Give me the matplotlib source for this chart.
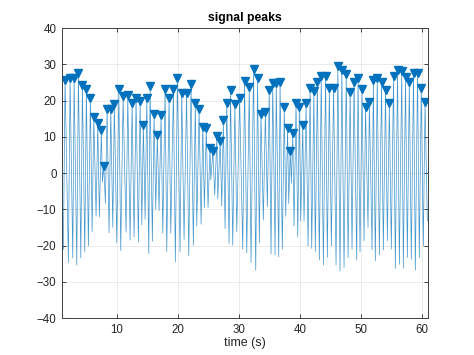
import numpy as np
import matplotlib
matplotlib.use("Agg")
from matplotlib import pyplot as plt

plt.rcParams['font.family'] = ['Liberation Sans', 'DejaVu Sans']

# peak positions (s) and heights
peak_t = [1.49, 2.31, 2.97, 3.67, 4.33, 4.98, 5.64, 6.20, 6.85, 7.44,
          7.84, 8.38, 8.98, 9.57, 10.30, 11.00, 11.77, 12.48, 13.13, 13.79,
          14.33, 14.89, 15.43, 16.08, 16.62, 17.23, 17.89, 18.54, 19.25, 19.90,
          20.62, 21.41, 22.15, 22.84, 23.46, 24.07, 24.64, 25.26, 25.72, 26.38,
          26.92, 27.44, 28.00, 28.62, 29.33, 30.11, 30.92, 31.69, 32.39, 33.05,
          33.61, 34.33, 34.97, 35.54, 36.11, 36.74, 37.43, 37.97, 38.41, 38.82,
          39.36, 39.90, 40.46, 41.00, 41.66, 42.28, 42.85, 43.49, 44.20, 44.82,
          45.51, 46.21, 46.87, 47.59, 48.23, 48.87, 49.52, 50.18, 50.75, 51.38,
          52.03, 52.67, 53.38, 54.03, 54.66, 55.34, 56.00, 56.69, 57.31, 57.93,
          58.62, 59.28, 59.89, 60.51]
peak_v = [25.8, 26.1, 26.3, 27.5, 24.3, 23.1, 20.8, 15.5, 13.7, 11.8,
          1.9, 17.6, 17.8, 19.0, 23.1, 21.2, 21.4, 19.3, 20.6, 19.9,
          13.2, 20.6, 24.1, 16.2, 10.6, 15.9, 23.2, 20.7, 23.2, 26.2,
          22.0, 22.0, 24.5, 19.4, 17.6, 12.8, 12.4, 7.0, 6.0, 10.2,
          8.8, 14.6, 19.4, 22.8, 19.0, 20.8, 25.4, 23.8, 28.8, 26.3,
          16.3, 16.8, 22.8, 24.8, 24.8, 25.2, 18.1, 12.4, 6.1, 11.0,
          19.3, 18.2, 13.2, 19.2, 23.4, 22.5, 25.2, 26.9, 26.9, 23.6,
          23.5, 29.4, 28.4, 27.4, 22.4, 25.2, 26.1, 23.2, 18.3, 19.7,
          25.7, 26.3, 25.2, 23.0, 19.3, 26.8, 28.3, 28.1, 26.6, 25.2,
          27.7, 27.7, 23.6, 19.7]

# troughs between the peaks
trough_t = [1.21, 2.03, 2.75, 3.41, 4.07, 4.72, 5.31, 5.92, 6.57, 7.11,
            7.61, 8.10, 8.70, 9.31, 9.97, 10.62, 11.49, 12.15, 12.80, 13.51,
            14.07, 14.61, 15.21, 15.80, 16.36, 16.90, 17.51, 18.16, 18.82, 19.57,
            20.34, 21.00, 21.77, 22.52, 23.08, 23.79, 24.33, 24.93, 25.38, 26.03,
            26.52, 27.18, 27.72, 28.38, 28.98, 29.64, 30.62, 31.28, 31.98, 32.75,
            33.34, 34.00, 34.66, 35.26, 35.92, 36.52, 37.11, 37.67, 38.16, 38.59,
            39.03, 39.64, 40.13, 40.67, 41.33, 41.93, 42.52, 43.18, 43.84, 44.49,
            45.15, 45.92, 46.57, 47.23, 47.89, 48.54, 49.31, 49.85, 50.51, 51.16,
            51.82, 52.36, 53.02, 53.67, 54.33, 54.98, 55.64, 56.30, 56.95, 57.61,
            58.26, 58.92, 59.57, 60.23, 60.89]
trough_v = [-21.0, -24.7, -23.4, -25.4, -23.4, -21.7, -20.1, -16.2, -11.9, -12.1,
            -2.4, -8.4, -16.5, -15.0, -19.2, -21.4, -16.3, -18.5, -17.6, -19.0,
            -14.3, -12.8, -22.2, -18.8, -10.0, -10.4, -16.6, -21.7, -16.6, -24.5,
            -21.7, -18.3, -22.8, -19.9, -14.6, -14.1, -9.5, -9.5, -1.9, -6.1,
            -7.2, -9.1, -15.3, -19.4, -19.9, -16.2, -21.0, -22.0, -24.7, -26.8,
            -19.2, -13.0, -9.3, -22.3, -22.6, -23.1, -21.0, -11.9, -8.4, -2.8,
            -14.6, -17.7, -13.2, -13.2, -20.1, -20.8, -21.7, -24.0, -25.4, -23.3,
            -20.1, -25.4, -27.0, -26.0, -23.3, -21.0, -24.0, -21.7, -18.7, -15.0,
            -21.2, -24.2, -22.6, -21.2, -18.7, -21.0, -26.3, -25.2, -26.3, -23.3,
            -23.8, -26.8, -23.3, -20.1, -13.2]

# signal = troughs and peaks in time order
t = np.concatenate([trough_t, peak_t])
y = np.concatenate([trough_v, peak_v])
order = np.argsort(t)
t, y = t[order], y[order]

blue = '#0072BD'
fig = plt.figure(figsize=(4.74, 3.55), dpi=100)
ax = fig.add_axes([0.131, 0.104, 0.772, 0.817])
ax.plot(t, y, color=blue, lw=0.5, alpha=0.75)
ax.plot(peak_t, peak_v, 'v', color=blue, ms=5.5, mec=blue, mfc=blue)

ax.set_xlim(1, 61)
ax.set_ylim(-40, 40)
ax.set_xticks(np.arange(10, 61, 10))
ax.set_yticks(np.arange(-40, 41, 10))
ax.grid(True, color='#e6e6e6', lw=0.6)
ax.set_axisbelow(True)
ax.tick_params(direction='in', top=True, right=True, length=3, width=0.6,
               labelsize=8.3, colors='#262626', pad=4)
for s in ax.spines.values():
    s.set_color('#404040')
    s.set_linewidth(0.7)

ax.set_title('signal peaks', fontsize=8.8, fontweight='bold', pad=5)
ax.set_xlabel('time (s)', fontsize=9, labelpad=1, color='#262626')

fig.savefig('out.png', dpi=100)
